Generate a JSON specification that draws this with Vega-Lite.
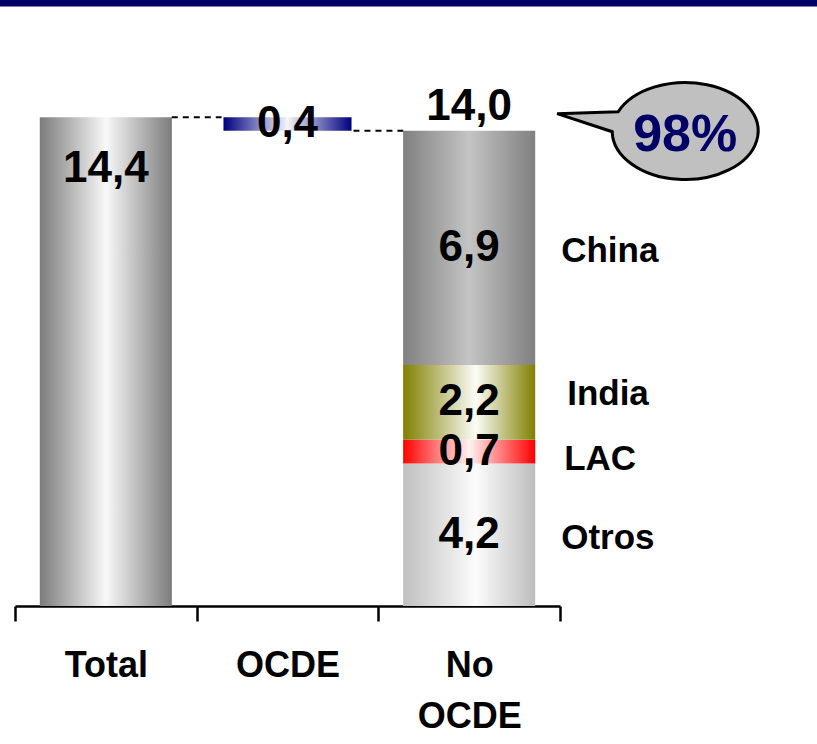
{
  "$schema": "https://vega.github.io/schema/vega-lite/v6.json",
  "width": 817,
  "height": 606,
  "autosize": "none",
  "padding": {"left": 0, "top": 0, "right": 0, "bottom": 138},
  "background": "white",
  "config": {
    "view": {"stroke": null},
    "text": {"font": "Liberation Sans", "fontWeight": "bold", "color": "black"},
    "axisX": {
      "domainColor": "black", "domainWidth": 2.5,
      "tickColor": "black", "tickWidth": 2.5, "tickSize": 15, "tickBand": "extent",
      "labelFont": "Liberation Sans", "labelFontSize": 36, "labelFontWeight": "bold",
      "labelColor": "black", "labelAngle": 0, "labelPadding": 27, "labelLineHeight": 51,
      "grid": false, "title": null
    }
  },
  "datasets": {
    "bars": [
      {"cat": "Total", "seg": "Total", "start": 0, "end": 14.4, "label": "14,4"},
      {"cat": "OCDE", "seg": "OCDE", "start": 14.0, "end": 14.4, "label": "0,4"},
      {"cat": "No OCDE", "seg": "Otros", "start": 0, "end": 4.2, "label": "4,2"},
      {"cat": "No OCDE", "seg": "LAC", "start": 4.2, "end": 4.9, "label": "0,7"},
      {"cat": "No OCDE", "seg": "India", "start": 4.9, "end": 7.1, "label": "2,2"},
      {"cat": "No OCDE", "seg": "China", "start": 7.1, "end": 14.0, "label": "6,9"}
    ],
    "links": [
      {"from": "Total", "to": "OCDE", "level": 14.4},
      {"from": "OCDE", "to": "No OCDE", "level": 14.0}
    ],
    "totals": [{"cat": "No OCDE", "total": 14.0, "label": "14,0"}],
    "note": [{"cat": "No OCDE", "share": "98%"}]
  },
  "layer": [
    {
      "data": {"name": "bars"},
      "transform": [{"filter": "datum.seg == 'Total'"}],
      "mark": {"type": "bar", "width": {"band": 0.727}, "stroke": null,
        "fill": {"gradient": "linear", "x1": 0, "y1": 0, "x2": 1, "y2": 0,
          "stops": [{"offset": 0, "color": "#7c7c7c"}, {"offset": 0.5, "color": "#f8f8f8"}, {"offset": 1, "color": "#7c7c7c"}]}},
      "encoding": {
        "x": {"field": "cat", "type": "nominal", "sort": ["Total", "OCDE", "No OCDE"],
          "scale": {"domain": ["Total", "OCDE", "No OCDE"], "range": [15, 560], "paddingInner": 0, "paddingOuter": 0},
          "axis": {"labelExpr": "datum.label == 'No OCDE' ? ['No', 'OCDE'] : datum.label", "title": null}},
        "y": {"field": "start", "type": "quantitative", "scale": {"domain": [0, 17.85], "nice": false}, "axis": null},
        "y2": {"field": "end"}
      }
    },
    {
      "data": {"name": "bars"},
      "transform": [{"filter": "datum.seg == 'OCDE'"}],
      "mark": {"type": "bar", "width": {"band": 0.705}, "stroke": null,
        "fill": {"gradient": "linear", "x1": 0, "y1": 0, "x2": 1, "y2": 0,
          "stops": [{"offset": 0, "color": "#000080"}, {"offset": 0.5, "color": "#f4f4f8"}, {"offset": 1, "color": "#000080"}]}},
      "encoding": {
        "x": {"field": "cat", "type": "nominal", "title": null},
        "y": {"field": "start", "type": "quantitative", "axis": null},
        "y2": {"field": "end"}
      }
    },
    {
      "data": {"name": "bars"},
      "transform": [{"filter": "datum.seg == 'Otros'"}],
      "mark": {"type": "bar", "width": {"band": 0.727}, "stroke": null,
        "fill": {"gradient": "linear", "x1": 0, "y1": 0, "x2": 1, "y2": 0,
          "stops": [{"offset": 0, "color": "#c0c0c0"}, {"offset": 0.55, "color": "#fcfcfc"}, {"offset": 1, "color": "#bdbdbd"}]}},
      "encoding": {
        "x": {"field": "cat", "type": "nominal", "title": null},
        "y": {"field": "start", "type": "quantitative", "axis": null},
        "y2": {"field": "end"}
      }
    },
    {
      "data": {"name": "bars"},
      "transform": [{"filter": "datum.seg == 'LAC'"}],
      "mark": {"type": "bar", "width": {"band": 0.727}, "stroke": null,
        "fill": {"gradient": "linear", "x1": 0, "y1": 0, "x2": 1, "y2": 0,
          "stops": [{"offset": 0, "color": "#ff0000"}, {"offset": 0.5, "color": "#fff2f2"}, {"offset": 1, "color": "#ff0000"}]}},
      "encoding": {
        "x": {"field": "cat", "type": "nominal", "title": null},
        "y": {"field": "start", "type": "quantitative", "axis": null},
        "y2": {"field": "end"}
      }
    },
    {
      "data": {"name": "bars"},
      "transform": [{"filter": "datum.seg == 'India'"}],
      "mark": {"type": "bar", "width": {"band": 0.727}, "stroke": null,
        "fill": {"gradient": "linear", "x1": 0, "y1": 0, "x2": 1, "y2": 0,
          "stops": [{"offset": 0, "color": "#808000"}, {"offset": 0.55, "color": "#fcfcf8"}, {"offset": 1, "color": "#808000"}]}},
      "encoding": {
        "x": {"field": "cat", "type": "nominal", "title": null},
        "y": {"field": "start", "type": "quantitative", "axis": null},
        "y2": {"field": "end"}
      }
    },
    {
      "data": {"name": "bars"},
      "transform": [{"filter": "datum.seg == 'China'"}],
      "mark": {"type": "bar", "width": {"band": 0.727}, "stroke": null,
        "fill": {"gradient": "linear", "x1": 0, "y1": 0, "x2": 1, "y2": 0,
          "stops": [{"offset": 0, "color": "#808080"}, {"offset": 0.5, "color": "#c4c4c4"}, {"offset": 1, "color": "#808080"}]}},
      "encoding": {
        "x": {"field": "cat", "type": "nominal", "title": null},
        "y": {"field": "start", "type": "quantitative", "axis": null},
        "y2": {"field": "end"}
      }
    },
    {
      "data": {"name": "links"},
      "mark": {"type": "rule", "color": "black", "strokeWidth": 2, "strokeDash": [6, 5]},
      "encoding": {
        "x": {"field": "from", "type": "nominal", "bandPosition": 0.863, "title": null},
        "x2": {"field": "to", "bandPosition": 0.137},
        "y": {"field": "level", "type": "quantitative", "axis": null}
      }
    },
    {
      "data": {"name": "bars"},
      "transform": [{"filter": "datum.seg == 'Total'"}],
      "mark": {"type": "text", "fontSize": 44, "dy": 52},
      "encoding": {
        "x": {"field": "cat", "type": "nominal", "title": null},
        "y": {"field": "end", "type": "quantitative", "axis": null},
        "text": {"field": "label"}
      }
    },
    {
      "data": {"name": "bars"},
      "transform": [{"filter": "datum.seg != 'Total'"}, {"calculate": "(datum.start + datum.end) / 2", "as": "mid"}],
      "mark": {"type": "text", "fontSize": 44, "dy": 0},
      "encoding": {
        "x": {"field": "cat", "type": "nominal", "title": null},
        "y": {"field": "mid", "type": "quantitative", "axis": null},
        "text": {"field": "label"}
      }
    },
    {
      "data": {"name": "totals"},
      "mark": {"type": "text", "fontSize": 44, "dy": -24},
      "encoding": {
        "x": {"field": "cat", "type": "nominal", "title": null},
        "y": {"field": "total", "type": "quantitative", "axis": null},
        "text": {"field": "label"}
      }
    },
    {
      "data": {"name": "bars"},
      "transform": [{"filter": "datum.cat == 'No OCDE' && datum.seg != 'India' && datum.seg != 'LAC'"}, {"calculate": "(datum.start + datum.end) / 2", "as": "mid"}],
      "mark": {"type": "text", "fontSize": 35, "align": "left", "dx": 92, "dy": 3},
      "encoding": {
        "x": {"field": "cat", "type": "nominal", "title": null},
        "y": {"field": "mid", "type": "quantitative", "axis": null},
        "text": {"field": "seg"}
      }
    },
    {
      "data": {"name": "bars"},
      "transform": [{"filter": "datum.seg == 'India'"}, {"calculate": "(datum.start + datum.end) / 2", "as": "mid"}],
      "mark": {"type": "text", "fontSize": 35, "align": "left", "dx": 98, "dy": -8},
      "encoding": {
        "x": {"field": "cat", "type": "nominal", "title": null},
        "y": {"field": "mid", "type": "quantitative", "axis": null},
        "text": {"field": "seg"}
      }
    },
    {
      "data": {"name": "bars"},
      "transform": [{"filter": "datum.seg == 'LAC'"}, {"calculate": "(datum.start + datum.end) / 2", "as": "mid"}],
      "mark": {"type": "text", "fontSize": 35, "align": "left", "dx": 95, "dy": 7},
      "encoding": {
        "x": {"field": "cat", "type": "nominal", "title": null},
        "y": {"field": "mid", "type": "quantitative", "axis": null},
        "text": {"field": "seg"}
      }
    },
    {
      "data": {"name": "note"},
      "mark": {"type": "point", "filled": true, "fill": "#c0c0c0", "stroke": "black", "strokeWidth": 3, "opacity": 1, "fillOpacity": 1,
        "shape": "M -0.523 -0.156 L -1 -0.141 L -0.570 0 A 0.570 0.379 0 1 0 -0.523 -0.156 Z",
        "size": 65536, "xOffset": 216, "yOffset": 1},
      "encoding": {
        "x": {"field": "cat", "type": "nominal", "title": null},
        "y": {"datum": 14, "type": "quantitative", "axis": null}
      }
    },
    {
      "data": {"name": "note"},
      "mark": {"type": "text", "fontSize": 52, "color": "#000066", "xOffset": 216, "dy": 4},
      "encoding": {
        "x": {"field": "cat", "type": "nominal", "title": null},
        "y": {"datum": 14, "type": "quantitative", "axis": null},
        "text": {"field": "share"}
      }
    },
    {
      "data": {"values": [{}]},
      "mark": {"type": "rule", "color": "#000066", "strokeWidth": 7},
      "encoding": {
        "x": {"value": 0},
        "x2": {"value": "width"},
        "y": {"value": 3}
      }
    }
  ]
}
